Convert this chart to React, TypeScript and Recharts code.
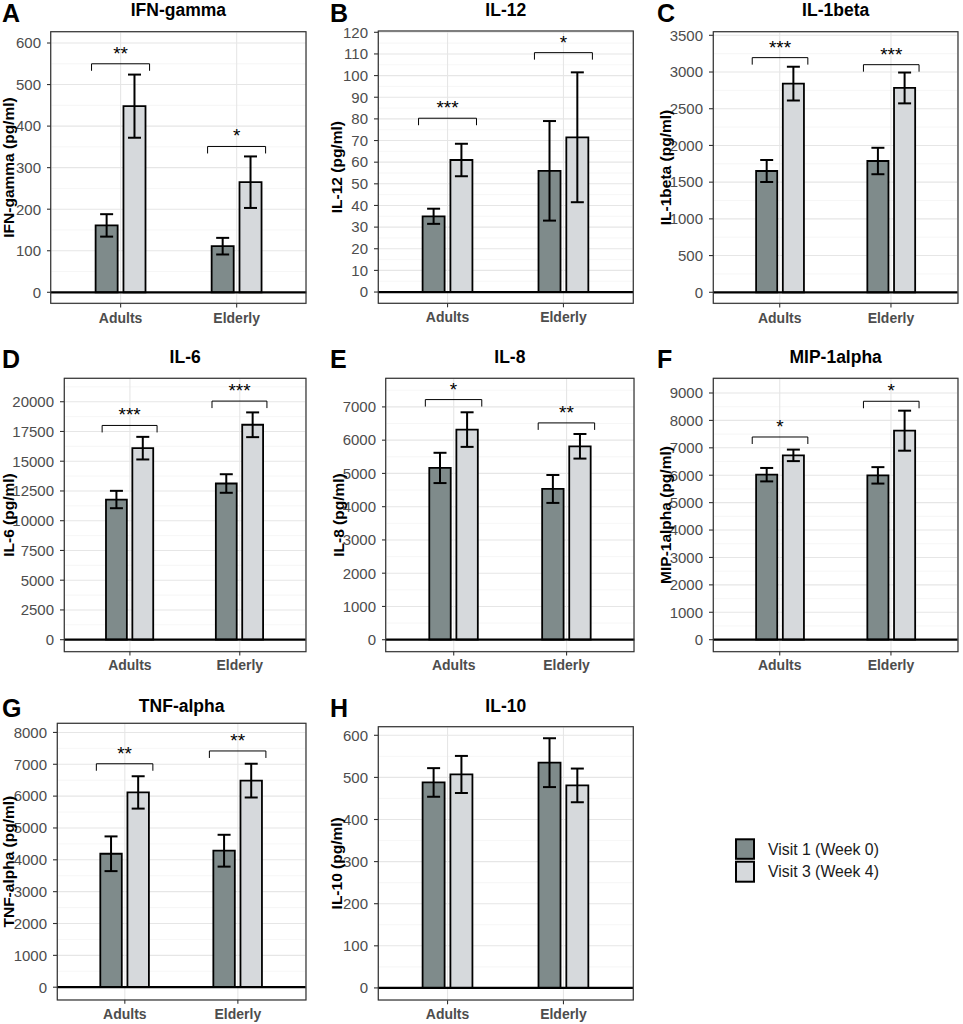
import React from "react";
import {
  BarChart,
  Bar,
  XAxis,
  YAxis,
  CartesianGrid,
  ErrorBar,
  ReferenceLine,
  LabelList,
} from "recharts";

const groups = ["Adults", "Elderly"];

// A - IFN-gamma
const ifnV1 = [161, 111];
const ifnV1Err = [27, 20];
const ifnV3 = [448, 265];
const ifnV3Err = [76, 62];
const ifnSig = [550, 351];
const ifnStars = ["**", "*"];
const ifnTicks = [0, 100, 200, 300, 400, 500, 600];

// B - IL-12
const il12V1 = [35, 56];
const il12V1Err = [3.5, 23];
const il12V3 = [61, 71.5];
const il12V3Err = [7.5, 30];
const il12Sig = [80.3, 110.6];
const il12Stars = ["***", "*"];
const il12Ticks = [0, 10, 20, 30, 40, 50, 60, 70, 80, 90, 100, 110, 120];

// C - IL-1beta
const il1bV1 = [1652, 1788];
const il1bV1Err = [150, 180];
const il1bV3 = [2842, 2783];
const il1bV3Err = [230, 210];
const il1bSig = [3196, 3100];
const il1bStars = ["***", "***"];
const il1bTicks = [0, 500, 1000, 1500, 2000, 2500, 3000, 3500];

// D - IL-6
const il6V1 = [11780, 13126];
const il6V1Err = [730, 780];
const il6V3 = [16097, 18063];
const il6V3Err = [950, 1040];
const il6Sig = [18006, 20054];
const il6Stars = ["***", "***"];
const il6Ticks = [0, 2500, 5000, 7500, 10000, 12500, 15000, 17500, 20000];

// E - IL-8
const il8V1 = [5165, 4533];
const il8V1Err = [455, 420];
const il8V3 = [6318, 5816];
const il8V3Err = [520, 370];
const il8Sig = [7220, 6519];
const il8Stars = ["*", "**"];
const il8Ticks = [0, 1000, 2000, 3000, 4000, 5000, 6000, 7000];

// F - MIP-1alpha
const mipV1 = [6020, 5995];
const mipV1Err = [245, 300];
const mipV3 = [6725, 7625];
const mipV3Err = [210, 730];
const mipSig = [7395, 8698];
const mipStars = ["*", "*"];
const mipTicks = [0, 1000, 2000, 3000, 4000, 5000, 6000, 7000, 8000, 9000];

// G - TNF-alpha
const tnfV1 = [4190, 4286];
const tnfV1Err = [545, 500];
const tnfV3 = [6116, 6487];
const tnfV3Err = [508, 530];
const tnfSig = [7016, 7418];
const tnfStars = ["**", "**"];
const tnfTicks = [0, 1000, 2000, 3000, 4000, 5000, 6000, 7000, 8000];

// H - IL-10
const il10V1 = [488, 535];
const il10V1Err = [34, 58];
const il10V3 = [507, 481];
const il10V3Err = [44, 40];
const il10Sig: number[] = [];
const il10Stars: string[] = [];
const il10Ticks = [0, 100, 200, 300, 400, 500, 600];

const seriesNames = ["Visit 1 (Week 0)", "Visit 3 (Week 4)"];

const V1_FILL = "#7f8b8b";
const V3_FILL = "#d6d9dc";
const ROW_TITLE_BASE = [16, 363.3, 711.5];
const ROW_LETTER_BASE = [22, 368, 717];

const panels = [
  { letter: "A", title: "IFN-gamma", yLabel: "IFN-gamma (pg/ml)", v1: ifnV1, v1Err: ifnV1Err, v3: ifnV3, v3Err: ifnV3Err, sig: ifnSig, stars: ifnStars, ticks: ifnTicks, domain: [-27.2, 626.5], box: { l: 50.7, r: 306, t: 31.7, b: 303.3 }, row: 0, letterX: 2, labelX: 8.5 },
  { letter: "B", title: "IL-12", yLabel: "IL-12 (pg/ml)", v1: il12V1, v1Err: il12V1Err, v3: il12V3, v3Err: il12V3Err, sig: il12Sig, stars: il12Stars, ticks: il12Ticks, domain: [-5.2, 120.6], box: { l: 378.3, r: 633.3, t: 31, b: 303.3 }, row: 0, letterX: 330, labelX: 336 },
  { letter: "C", title: "IL-1beta", yLabel: "IL-1beta (pg/ml)", v1: il1bV1, v1Err: il1bV1Err, v3: il1bV3, v3Err: il1bV3Err, sig: il1bSig, stars: il1bStars, ticks: il1bTicks, domain: [-154, 3545], box: { l: 713.3, r: 958, t: 31.7, b: 303.3 }, row: 0, letterX: 657, labelX: 665 },
  { letter: "D", title: "IL-6", yLabel: "IL-6 (pg/ml)", v1: il6V1, v1Err: il6V1Err, v3: il6V3, v3Err: il6V3Err, sig: il6Sig, stars: il6Stars, ticks: il6Ticks, domain: [-984, 21994], box: { l: 64.3, r: 306, t: 378.3, b: 651.7 }, row: 1, letterX: 2, labelX: 8.5 },
  { letter: "E", title: "IL-8", yLabel: "IL-8 (pg/ml)", v1: il8V1, v1Err: il8V1Err, v3: il8V3, v3Err: il8V3Err, sig: il8Sig, stars: il8Stars, ticks: il8Ticks, domain: [-351, 7869], box: { l: 385.7, r: 634, t: 378.3, b: 651.7 }, row: 1, letterX: 330, labelX: 338 },
  { letter: "F", title: "MIP-1alpha", yLabel: "MIP-1alpha (pg/ml)", v1: mipV1, v1Err: mipV1Err, v3: mipV3, v3Err: mipV3Err, sig: mipSig, stars: mipStars, ticks: mipTicks, domain: [-427, 9547], box: { l: 713.3, r: 958, t: 378.3, b: 651.7 }, row: 1, letterX: 657, labelX: 665 },
  { letter: "G", title: "TNF-alpha", yLabel: "TNF-alpha (pg/ml)", v1: tnfV1, v1Err: tnfV1Err, v3: tnfV3, v3Err: tnfV3Err, sig: tnfSig, stars: tnfStars, ticks: tnfTicks, domain: [-392, 8296], box: { l: 57.3, r: 306, t: 723.3, b: 1000 }, row: 2, letterX: 2, labelX: 8.5 },
  { letter: "H", title: "IL-10", yLabel: "IL-10 (pg/ml)", v1: il10V1, v1Err: il10V1Err, v3: il10V3, v3Err: il10V3Err, sig: il10Sig, stars: il10Stars, ticks: il10Ticks, domain: [-29.4, 619.7], box: { l: 378.3, r: 633.3, t: 726.7, b: 1000 }, row: 2, letterX: 330, labelX: 336 },
];

const Y_AXIS_W = 64;
const M_TOP = 10;
const M_RIGHT = 10;
const X_AXIS_H = 30;

function minorValues(ticks: number[], domain: number[]) {
  const step = ticks[1] - ticks[0];
  const out: number[] = [];
  for (let v = ticks[0] - step / 2; v <= ticks[ticks.length - 1] + step; v += step) {
    if (v > domain[0] && v < domain[1]) out.push(v);
  }
  return out;
}

function Panel({ p }: { p: (typeof panels)[number] }) {
  const plotW = p.box.r - p.box.l;
  const plotH = p.box.b - p.box.t;
  const spacing = plotW / 2.2;
  const pad = plotW / 22;
  const barSize = spacing * 0.19;
  const barGap = spacing * 0.05;
  const data = groups.map((g, i) => ({
    group: g,
    v1: p.v1[i],
    v1Err: p.v1Err[i],
    v3: p.v3[i],
    v3Err: p.v3Err[i],
  }));

  // significance bracket, placed from the visit-3 bar's geometry
  const bracket = (props: any) => {
    const i = props.index;
    if (!p.stars[i]) return null;
    const vb = props.viewBox || props;
    const { x, y, height } = vb;
    const base = y + height;
    const ppu = height / p.v3[i];
    const yb = base - p.sig[i] * ppu;
    const cx = x - barGap / 2;
    const hw = spacing * 0.25;
    return (
      <g>
        <path
          d={`M${cx - hw},${yb + 7}V${yb}H${cx + hw}V${yb + 7}`}
          stroke="#000"
          strokeWidth={1}
          fill="none"
        />
        <text x={cx} y={yb - 4} textAnchor="middle" fontSize={19} fill="#000">
          {p.stars[i]}
        </text>
      </g>
    );
  };

  return (
    <div
      style={{
        position: "absolute",
        left: p.box.l - Y_AXIS_W,
        top: p.box.t - M_TOP,
      }}
    >
      <BarChart
        width={plotW + Y_AXIS_W + M_RIGHT}
        height={plotH + M_TOP + X_AXIS_H}
        data={data}
        margin={{ top: M_TOP, right: M_RIGHT, left: 0, bottom: 0 }}
        barSize={barSize}
        barGap={barGap}
      >
        <CartesianGrid
          vertical={false}
          horizontalValues={minorValues(p.ticks, p.domain)}
          stroke="#f0f0f0"
          strokeWidth={0.6}
        />
        <CartesianGrid stroke="#e6e6e6" strokeWidth={1.1} />
        <XAxis
          dataKey="group"
          height={X_AXIS_H}
          padding={{ left: pad, right: pad }}
          axisLine={false}
          tickSize={4}
          tickMargin={5}
          tickLine={{ stroke: "#333333", strokeWidth: 1.1 }}
          tick={{ fill: "#4d4d4d", fontSize: 14, fontWeight: "bold" }}
        />
        <YAxis
          width={Y_AXIS_W}
          type="number"
          domain={p.domain}
          allowDataOverflow
          ticks={p.ticks}
          interval={0}
          axisLine={false}
          tickSize={4}
          tickMargin={6}
          tickLine={{ stroke: "#333333", strokeWidth: 1.1 }}
          tick={{ fill: "#4d4d4d", fontSize: 15 }}
        />
        <Bar
          dataKey="v1"
          name={seriesNames[0]}
          fill={V1_FILL}
          stroke="#000"
          strokeWidth={1.8}
          isAnimationActive={false}
        >
          <ErrorBar dataKey="v1Err" width={6.5} stroke="#000" strokeWidth={2} />
        </Bar>
        <Bar
          dataKey="v3"
          name={seriesNames[1]}
          fill={V3_FILL}
          stroke="#000"
          strokeWidth={1.8}
          isAnimationActive={false}
        >
          <ErrorBar dataKey="v3Err" width={6.5} stroke="#000" strokeWidth={2} />
          {p.stars.length > 0 && <LabelList dataKey="v3" content={bracket} />}
        </Bar>
        <ReferenceLine y={0} stroke="#000" strokeWidth={2.2} />
      </BarChart>
    </div>
  );
}

export default function App() {
  return (
    <div
      style={{
        position: "absolute",
        left: 0,
        top: 0,
        width: 963,
        height: 1024,
        overflow: "hidden",
        background: "#fff",
        fontFamily: "'Liberation Sans', Arial, sans-serif",
      }}
    >
      {panels.map((p) => (
        <Panel key={p.letter} p={p} />
      ))}
      <svg
        width={963}
        height={1024}
        style={{ position: "absolute", left: 0, top: 0, pointerEvents: "none" }}
      >
        {panels.map((p) => {
          const cx = (p.box.l + p.box.r) / 2;
          const cy = (p.box.t + p.box.b) / 2;
          return (
            <g key={p.letter}>
              <rect
                x={p.box.l}
                y={p.box.t}
                width={p.box.r - p.box.l}
                height={p.box.b - p.box.t}
                fill="none"
                stroke="#333333"
                strokeWidth={1.2}
              />
              <text x={p.letterX} y={ROW_LETTER_BASE[p.row]} fontSize={25} fontWeight="bold" fill="#000">
                {p.letter}
              </text>
              <text x={cx} y={ROW_TITLE_BASE[p.row]} fontSize={17.5} fontWeight="bold" textAnchor="middle" fill="#000">
                {p.title}
              </text>
              <text
                transform={`translate(${p.labelX},${cy}) rotate(-90)`}
                fontSize={15.5}
                fontWeight="bold"
                textAnchor="middle"
                dominantBaseline="central"
                fill="#000"
              >
                {p.yLabel}
              </text>
            </g>
          );
        })}
        <g>
          <rect x={736} y={839.3} width={18} height={19.5} fill={V1_FILL} stroke="#000" strokeWidth={2} />
          <rect x={736} y={861.7} width={18} height={20} fill={V3_FILL} stroke="#000" strokeWidth={2} />
          <text x={768} y={854.6} fontSize={15.8} fill="#1a1a1a">
            {seriesNames[0]}
          </text>
          <text x={768} y={877.3} fontSize={15.8} fill="#1a1a1a">
            {seriesNames[1]}
          </text>
        </g>
      </svg>
    </div>
  );
}
